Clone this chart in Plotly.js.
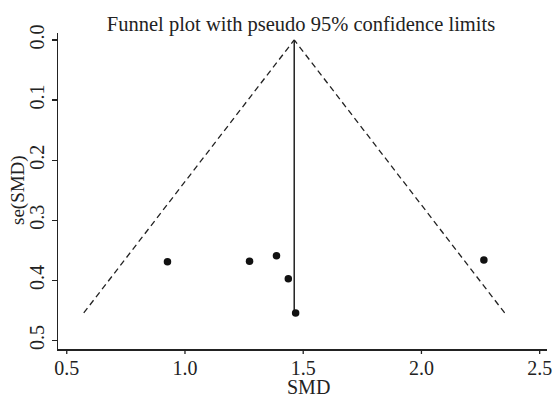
<!DOCTYPE html>
<html>
<head>
<meta charset="utf-8">
<script src="https://cdn.plot.ly/plotly-3.0.1.min.js"></script>
<style>html,body{margin:0;padding:0;background:#fff;}#chart{width:554px;height:399px;}</style>
</head>
<body>
<div id="chart"></div>
<script>
// Study estimates
var smd = [0.926, 1.273, 1.387, 1.437, 1.468, 2.264];
var seSmd = [0.369, 0.368, 0.359, 0.397, 0.454, 0.366];
// Pooled estimate line
var pooledX = [1.462, 1.462];
var pooledSe = [0.0, 0.454];
// Pseudo 95% confidence limits (endpoints)
var leftLimitX = [0.572, 1.462];
var rightLimitX = [2.352, 1.462];
var limitSe = [0.454, 0.0];
// Tick labels
var xTicks = [0.5, 1.0, 1.5, 2.0, 2.5];
var xTickText = ["0.5", "1.0", "1.5", "2.0", "2.5"];
var yTicks = [0.0, 0.1, 0.2, 0.3, 0.4, 0.5];
var yTickText = ["0.0", "0.1", "0.2", "0.3", "0.4", "0.5"];

var ink = '#222222';
var font = '"Liberation Serif", "Times New Roman", serif';
var W = 554, H = 399;
var plotH = 349 - 33;

var traces = [
  {x: leftLimitX, y: limitSe, mode: 'lines', line: {color: ink, width: 1.3, dash: '6px,4px'}, hoverinfo: 'skip'},
  {x: rightLimitX, y: limitSe, mode: 'lines', line: {color: ink, width: 1.3, dash: '6px,4px'}, hoverinfo: 'skip'},
  {x: pooledX, y: pooledSe, mode: 'lines', line: {color: ink, width: 1.5}, hoverinfo: 'skip'},
  {x: smd, y: seSmd, mode: 'markers', marker: {color: '#111111', size: 7.5}}
];

// outward x tick marks placed on the x scale at the tick values
var xTickMarks = xTicks.map(function (v) {
  return {type: 'line', xref: 'x', yref: 'paper', x0: v, x1: v, y0: 0, y1: -5 / plotH, line: {color: ink, width: 1.3}};
});

var layout = {
  width: W, height: H,
  margin: {l: 58, r: 7, t: 33, b: 50, pad: 0},
  paper_bgcolor: '#ffffff', plot_bgcolor: '#ffffff',
  showlegend: false,
  font: {family: font, color: ink, size: 20},
  title: {text: 'Funnel plot with pseudo 95% confidence limits', x: 301/W, xanchor: 'center', y: 1 - 24/H, yanchor: 'middle', font: {family: font, size: 20.5, color: ink}},
  xaxis: {
    range: [0.463, 2.531], tickvals: xTicks, ticktext: xTickText,
    showgrid: false, zeroline: false, showline: true, linewidth: 1.5, linecolor: ink,
    ticks: '', tickfont: {family: font, size: 20, color: ink}
  },
  yaxis: {
    range: [0.514, -0.0116], tickvals: yTicks, ticktext: yTickText, tickangle: -90,
    showgrid: false, zeroline: false, showline: true, linewidth: 1.5, linecolor: ink,
    ticks: 'outside', ticklen: 5, tickwidth: 1.3, tickcolor: ink,
    tickfont: {family: font, size: 20, color: ink}
  },
  shapes: xTickMarks,
  annotations: [
    {text: 'SMD', xref: 'paper', yref: 'paper', x: (308 - 58) / (W - 65), y: -(387 - 349) / plotH, xanchor: 'center', yanchor: 'middle', showarrow: false, font: {family: font, size: 20, color: ink}},
    {text: 'se(SMD)', xref: 'paper', yref: 'paper', x: -(58 - 18) / (W - 65), y: (349 - 190) / plotH, xanchor: 'center', yanchor: 'middle', textangle: -90, showarrow: false, font: {family: font, size: 19, color: ink}}
  ]
};

Plotly.newPlot('chart', traces, layout, {displayModeBar: false, staticPlot: true});
</script>
</body>
</html>
